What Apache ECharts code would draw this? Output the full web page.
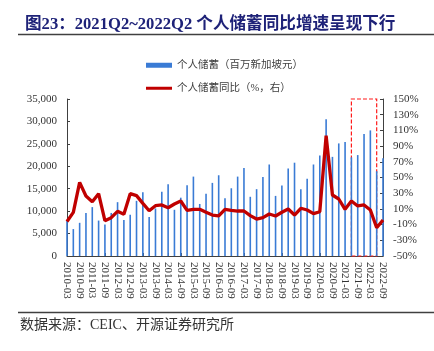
<!DOCTYPE html>
<html>
<head>
<meta charset="utf-8">
<script src="https://cdn.jsdelivr.net/npm/echarts@6/dist/echarts.min.js"></script>
<style>
html, body { margin: 0; padding: 0; background: #fff; }
#chart { width: 434px; height: 351px; }
</style>
</head>
<body>
<div id="chart"></div>
<script>
// 季度
const quarters = [
  '2010-03','2010-06','2010-09','2010-12','2011-03','2011-06','2011-09','2011-12',
  '2012-03','2012-06','2012-09','2012-12','2013-03','2013-06','2013-09','2013-12',
  '2014-03','2014-06','2014-09','2014-12','2015-03','2015-06','2015-09','2015-12',
  '2016-03','2016-06','2016-09','2016-12','2017-03','2017-06','2017-09','2017-12',
  '2018-03','2018-06','2018-09','2018-12','2019-03','2019-06','2019-09','2019-12',
  '2020-03','2020-06','2020-09','2020-12','2021-03','2021-06','2021-09','2021-12',
  '2022-03','2022-06','2022-09'
]
// 个人储蓄（百万新加坡元）
const savings = [
  7800, 6000, 7400, 9600, 10900, 7900, 7000, 9600,
  12000, 8000, 9200, 12300, 14200, 8700, 10600, 14300,
  16000, 10300, 13000, 15800, 17700, 11600, 13900, 16300,
  18000, 12900, 15100, 17700, 19600, 13200, 14900, 17600,
  20400, 13400, 15700, 19500, 20800, 14900, 17200, 20400,
  22400, 30500, 22100, 25100, 25400, 22000, 22500, 27200,
  28000, 18900, 21800
]
// 个人储蓄同比（%）
const savingsYoy = [
  -6, 5.6, 43.8, 26.4, 19.2, 29.4, -5, -1.2,
  6.9, 3.1, 29.4, 26.9, 17, 7.7, 14.1, 15.0,
  11.5, 16.2, 20.1, 8.2, 9.5, 9.5, 5.7, 2.2,
  1.0, 9.5, 8.2, 7.3, 7.3, 1.4, -2.9, -1.2,
  3.5, 1.0, 5.7, 9.9, 2.2, 10.8, 8.6, 3.9,
  6.4, 103.2, 27.7, 22.6, 9.5, 20.1, 13.7, 15.0,
  8.6, -14.0, -4.1
]
// 红框：2021Q2~2022Q2
const boxRange = ['2021-06', '2022-06']

const serif = "'Liberation Serif', 'Times New Roman', serif"
const cjk = "'Liberation Serif', 'Noto Sans CJK SC', serif"
const axisColor = '#404040'

const myChart = echarts.init(document.getElementById('chart'))
const option = {
  animation: false,
  title: {
    text: '图23：2021Q2~2022Q2 个人储蓄同比增速呈现下行',
    left: 20,
    top: 11,
    textStyle: {
      fontFamily: cjk,
      fontSize: 16.6,
      fontWeight: 'bold',
      color: '#1e2278'
    }
  },
  legend: [
    {
      data: [{ name: '个人储蓄（百万新加坡元）', icon: 'rect' }],
      left: 141,
      top: 55,
      itemWidth: 26,
      itemHeight: 5,
      textStyle: { fontFamily: cjk, fontSize: 10.5, color: '#404040' }
    },
    {
      data: [{ name: '个人储蓄同比（%，右）', icon: 'rect' }],
      left: 141,
      top: 78,
      itemWidth: 26,
      itemHeight: 3,
      textStyle: { fontFamily: cjk, fontSize: 10.5, color: '#404040' }
    }
  ],
  grid: {
    left: 67,
    right: 51,
    top: 99,
    bottom: 95
  },
  xAxis: {
    type: 'category',
    data: quarters,
    boundaryGap: false,
    axisLine: { lineStyle: { color: axisColor, width: 1 } },
    axisTick: { show: true, inside: true, length: 3, lineStyle: { color: axisColor } },
    axisLabel: {
      interval: 1,
      rotate: -90,
      margin: 6,
      fontFamily: serif,
      fontSize: 11,
      color: '#333'
    },
    splitLine: { show: false }
  },
  yAxis: [
    {
      type: 'value',
      min: 0,
      max: 35000,
      interval: 5000,
      axisLine: { show: true, lineStyle: { color: axisColor } },
      axisTick: { show: true, inside: true, length: 3, lineStyle: { color: axisColor } },
      splitLine: { show: false },
      axisLabel: { margin: 10, fontFamily: serif, fontSize: 11, color: '#333' }
    },
    {
      type: 'value',
      min: -50,
      max: 150,
      interval: 20,
      position: 'right',
      axisLine: { show: true, lineStyle: { color: axisColor } },
      axisTick: { show: true, inside: true, length: 3, lineStyle: { color: axisColor } },
      splitLine: { show: false },
      axisLabel: { margin: 10, formatter: '{value}%', fontFamily: serif, fontSize: 11, color: '#333' }
    }
  ],
  series: [
    {
      name: '个人储蓄（百万新加坡元）',
      type: 'bar',
      data: savings,
      barWidth: 1.6,
      itemStyle: { color: '#3a7bd5' }
    },
    {
      name: '个人储蓄同比（%，右）',
      type: 'line',
      yAxisIndex: 1,
      data: savingsYoy,
      symbol: 'none',
      lineStyle: { width: 3.3, color: '#c00000' },
      itemStyle: { color: '#c00000' },
      z: 3,
      markArea: {
        silent: true,
        itemStyle: {
          color: 'rgba(0,0,0,0)',
          borderColor: '#ff1a1a',
          borderWidth: 1.2,
          borderType: [4, 2]
        },
        data: [[{ xAxis: boxRange[0] }, { xAxis: boxRange[1] }]]
      }
    }
  ],
  graphic: [
    {
      type: 'line',
      shape: { x1: 18, y1: 34.5, x2: 434, y2: 34.5 },
      style: { stroke: '#404040', lineWidth: 1.5 }
    },
    {
      type: 'line',
      shape: { x1: 18, y1: 312.5, x2: 434, y2: 312.5 },
      style: { stroke: '#404040', lineWidth: 1.5 }
    },
    {
      type: 'text',
      left: 20,
      top: 318,
      style: {
        text: '数据来源：CEIC、开源证券研究所',
        font: "14px 'Liberation Serif', 'Noto Sans CJK SC', serif",
        fill: '#333'
      }
    }
  ]
}
option && myChart.setOption(option)
window.addEventListener('resize', function () {
  myChart.resize()
})
</script>
</body>
</html>
